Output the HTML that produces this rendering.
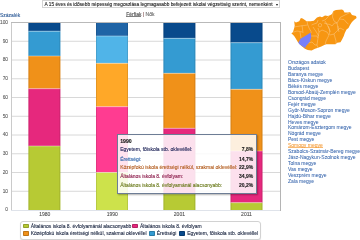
<!DOCTYPE html>
<html><head><meta charset="utf-8"><style>
html,body{margin:0;padding:0;background:#fff;}
body{width:360px;height:240px;overflow:hidden;position:relative;font-family:"Liberation Sans",sans-serif;font-size:5px;line-height:6px;}
div{position:absolute;white-space:nowrap;}
#wrap{left:0;top:0;width:360px;height:240px;will-change:transform;-webkit-text-stroke:0.1px currentColor;}
.yl{right:352px;color:#606060;text-align:right;font-size:4.8px;}
.xl{top:211px;width:30px;text-align:center;color:#505050;}
.ct{left:288px;color:#3a68ae;-webkit-text-stroke:0.05px currentColor;}
.sel{color:#f39a35;}
.ul::after{content:'';position:absolute;left:0;right:0;top:4.95px;height:0.45px;background:currentColor;opacity:0.7;}
.title{left:42px;top:0px;width:236px;height:5.8px;border:1px solid #d4d4d4;background:#fff;}
.title span{position:absolute;left:1.5px;top:0.9px;color:#222;font-size:4.8px;}
.tt{left:116.5px;top:134.3px;width:138px;height:57.5px;border:1px solid #6d7d95;background:rgba(255,255,255,0.86);box-shadow:1px 1px 1.5px rgba(0,0,0,0.3);}
.tr{left:2.7px;}
.tv{right:2.3px;color:#1a1a1a;text-align:right;font-weight:bold;}
.lg{left:20px;top:220.5px;width:239px;height:17px;border:1px solid #d2d2d2;border-radius:3px;background:#fff;box-shadow:0 1px 1px rgba(0,0,0,0.12);}
.sw{width:6px;height:4.5px;border-radius:1px;box-shadow:inset 0 0 0 0.7px rgba(0,0,0,0.28);}
.lt{color:#1a2540;}
</style></head><body><div id="wrap">
<svg width="360" height="240" style="position:absolute;left:0;top:0">
<line x1="11" x2="280" y1="191.25" y2="191.25" stroke="#d8d8d8" stroke-width="1"/>
<line x1="11" x2="280" y1="172.5" y2="172.5" stroke="#d8d8d8" stroke-width="1"/>
<line x1="11" x2="280" y1="153.75" y2="153.75" stroke="#d8d8d8" stroke-width="1"/>
<line x1="11" x2="280" y1="135.0" y2="135.0" stroke="#d8d8d8" stroke-width="1"/>
<line x1="11" x2="280" y1="116.25" y2="116.25" stroke="#d8d8d8" stroke-width="1"/>
<line x1="11" x2="280" y1="97.5" y2="97.5" stroke="#d8d8d8" stroke-width="1"/>
<line x1="11" x2="280" y1="78.75" y2="78.75" stroke="#d8d8d8" stroke-width="1"/>
<line x1="11" x2="280" y1="60.0" y2="60.0" stroke="#d8d8d8" stroke-width="1"/>
<line x1="11" x2="280" y1="41.25" y2="41.25" stroke="#d8d8d8" stroke-width="1"/>
<rect x="28.4" y="22.5" width="32" height="8.7" fill="#084a8c"/>
<rect x="28.4" y="31.2" width="32" height="24.8" fill="#349bd2"/>
<rect x="28.4" y="56" width="32" height="32.7" fill="#f09119"/>
<rect x="28.4" y="88.7" width="32" height="57.3" fill="#e6287d"/>
<rect x="28.4" y="146" width="32" height="64" fill="#b7ca34"/>
<line x1="28.4" x2="60.4" y1="31.2" y2="31.2" stroke="#fff" stroke-opacity="0.55" stroke-width="0.7"/>
<line x1="28.4" x2="60.4" y1="56" y2="56" stroke="#fff" stroke-opacity="0.55" stroke-width="0.7"/>
<line x1="28.4" x2="60.4" y1="88.7" y2="88.7" stroke="#fff" stroke-opacity="0.55" stroke-width="0.7"/>
<line x1="28.4" x2="60.4" y1="146" y2="146" stroke="#fff" stroke-opacity="0.55" stroke-width="0.7"/>
<rect x="28.5" y="22.5" width="0.9" height="187.5" fill="#000" fill-opacity="0.12"/>
<rect x="59.4" y="22.5" width="0.9" height="187.5" fill="#000" fill-opacity="0.12"/>
<rect x="96.0" y="22.5" width="32" height="13.5" fill="#1f64a6"/>
<rect x="96.0" y="36.0" width="32" height="27.299999999999997" fill="#50b4e8"/>
<rect x="96.0" y="63.3" width="32" height="43.400000000000006" fill="#ffa828"/>
<rect x="96.0" y="106.7" width="32" height="65.8" fill="#ff3c91"/>
<rect x="96.0" y="172.5" width="32" height="37.5" fill="#cde24b"/>
<line x1="96.0" x2="128.0" y1="36.0" y2="36.0" stroke="#fff" stroke-opacity="0.55" stroke-width="0.7"/>
<line x1="96.0" x2="128.0" y1="63.3" y2="63.3" stroke="#fff" stroke-opacity="0.55" stroke-width="0.7"/>
<line x1="96.0" x2="128.0" y1="106.7" y2="106.7" stroke="#fff" stroke-opacity="0.55" stroke-width="0.7"/>
<line x1="96.0" x2="128.0" y1="172.5" y2="172.5" stroke="#fff" stroke-opacity="0.55" stroke-width="0.7"/>
<rect x="96.1" y="22.5" width="0.9" height="187.5" fill="#000" fill-opacity="0.12"/>
<rect x="127.0" y="22.5" width="0.9" height="187.5" fill="#000" fill-opacity="0.12"/>
<rect x="163.4" y="22.5" width="32" height="15.799999999999997" fill="#084a8c"/>
<rect x="163.4" y="38.3" width="32" height="35.0" fill="#349bd2"/>
<rect x="163.4" y="73.3" width="32" height="55.000000000000014" fill="#f09119"/>
<rect x="163.4" y="128.3" width="32" height="65.69999999999999" fill="#e6287d"/>
<rect x="163.4" y="194" width="32" height="16" fill="#b7ca34"/>
<line x1="163.4" x2="195.4" y1="38.3" y2="38.3" stroke="#fff" stroke-opacity="0.55" stroke-width="0.7"/>
<line x1="163.4" x2="195.4" y1="73.3" y2="73.3" stroke="#fff" stroke-opacity="0.55" stroke-width="0.7"/>
<line x1="163.4" x2="195.4" y1="128.3" y2="128.3" stroke="#fff" stroke-opacity="0.55" stroke-width="0.7"/>
<line x1="163.4" x2="195.4" y1="194" y2="194" stroke="#fff" stroke-opacity="0.55" stroke-width="0.7"/>
<rect x="163.5" y="22.5" width="0.9" height="187.5" fill="#000" fill-opacity="0.12"/>
<rect x="194.4" y="22.5" width="0.9" height="187.5" fill="#000" fill-opacity="0.12"/>
<rect x="230.5" y="22.5" width="32" height="20.200000000000003" fill="#084a8c"/>
<rect x="230.5" y="42.7" width="32" height="46.599999999999994" fill="#349bd2"/>
<rect x="230.5" y="89.3" width="32" height="61.7" fill="#f09119"/>
<rect x="230.5" y="151" width="32" height="51.69999999999999" fill="#e6287d"/>
<rect x="230.5" y="202.7" width="32" height="7.300000000000011" fill="#b7ca34"/>
<line x1="230.5" x2="262.5" y1="42.7" y2="42.7" stroke="#fff" stroke-opacity="0.55" stroke-width="0.7"/>
<line x1="230.5" x2="262.5" y1="89.3" y2="89.3" stroke="#fff" stroke-opacity="0.55" stroke-width="0.7"/>
<line x1="230.5" x2="262.5" y1="151" y2="151" stroke="#fff" stroke-opacity="0.55" stroke-width="0.7"/>
<line x1="230.5" x2="262.5" y1="202.7" y2="202.7" stroke="#fff" stroke-opacity="0.55" stroke-width="0.7"/>
<rect x="230.6" y="22.5" width="0.9" height="187.5" fill="#000" fill-opacity="0.12"/>
<rect x="261.5" y="22.5" width="0.9" height="187.5" fill="#000" fill-opacity="0.12"/>
<line x1="11.5" x2="11.5" y1="22" y2="210.5" stroke="#cacaca"/>
<line x1="11" x2="280" y1="210.5" y2="210.5" stroke="#dfe3ea"/>
<line x1="11" x2="281" y1="22.5" y2="22.5" stroke="#b9b9b9"/>
<line x1="280.5" x2="280.5" y1="22" y2="211" stroke="#b4b4b4"/>
</svg>
<div class="yl" style="top:207.30px">0</div><div class="yl" style="top:188.55px">10</div><div class="yl" style="top:169.80px">20</div><div class="yl" style="top:151.05px">30</div><div class="yl" style="top:132.30px">40</div><div class="yl" style="top:113.55px">50</div><div class="yl" style="top:94.80px">60</div><div class="yl" style="top:76.05px">70</div><div class="yl" style="top:57.30px">80</div><div class="yl" style="top:38.55px">90</div><div class="yl" style="top:19.80px">100</div>
<div class="xl" style="left:29.700000000000003px">1980</div><div class="xl" style="left:97.2px">1990</div><div class="xl" style="left:164.4px">2001</div><div class="xl" style="left:231.5px">2011</div>
<div style="left:0px;top:11.5px;color:#2f5c98;">Százalék</div>
<div class="title"><span>A 15 éves és idősebb népesség megoszlása legmagasabb befejezett iskolai végzettség szerint, nemenként</span><span style="left:232.7px;top:2.5px;width:0;height:0;border-left:1.4px solid transparent;border-right:1.4px solid transparent;border-top:2.2px solid #111;"></span></div>
<div style="left:126.2px;top:10.8px;color:#555;"><span class="ul" style="position:relative;display:inline-block;color:#4a4a4a">Férfiak</span> <span style="color:#7a4a4a">|</span> <span style="color:#666">Nők</span></div>
<div class="tt">
<div class="tr" style="top:2.3px;color:#111;font-weight:bold;font-size:5.2px;">1990</div><div class="tr" style="top:11.1px;color:#161c52;">Egyetem, főiskola stb. oklevéllel:</div><div class="tv" style="top:11.1px">7,8%</div><div class="tr" style="top:20.5px;color:#2a62a8;">Érettségi:</div><div class="tv" style="top:20.5px">14,7%</div><div class="tr" style="top:28.7px;color:#b05818;">Középfokú iskola érettségi nélkül, szakmai oklevéllel:</div><div class="tv" style="top:28.7px">22,9%</div><div class="tr" style="top:38.1px;color:#8a1848;">Általános iskola 8. évfolyam:</div><div class="tv" style="top:38.1px">34,9%</div><div class="tr" style="top:46.3px;color:#687818;">Általános iskola 8. évfolyamánál alacsonyabb:</div><div class="tv" style="top:46.3px">20,2%</div>
</div>
<div class="lg">
 <div class="sw" style="left:1.8px;top:2px;background:#b7ca34"></div>
 <div class="lt" style="left:9.7px;top:1.3px">Általános iskola 8. évfolyamánál alacsonyabb</div>
 <div class="sw" style="left:111px;top:2px;background:#e6287d"></div>
 <div class="lt" style="left:119px;top:1.3px">Általános iskola 8. évfolyam</div>
 <div class="sw" style="left:1.8px;top:9.8px;background:#f09119"></div>
 <div class="lt" style="left:9.7px;top:8.6px">Középfokú iskola érettségi nélkül, szakmai oklevéllel</div>
 <div class="sw" style="left:128.4px;top:9.8px;background:#349bd2"></div>
 <div class="lt" style="left:135.7px;top:8.6px">Érettségi</div>
 <div class="sw" style="left:158.4px;top:9.8px;background:#084a8c"></div>
 <div class="lt" style="left:166.2px;top:8.6px">Egyetem, főiskola stb. oklevéllel</div>
</div>
<svg width="75" height="50" style="position:absolute;left:285px;top:5px" viewBox="285 5 75 50">
<path d="M291.4,33.6 L293,31.9 L294.2,28 L294.7,25.7 L294.2,21.2 L295.9,22.4 L299.2,21.2 L300.9,17.9 L302.6,18.4 L304.9,20.1 L306.5,21.2 L310.5,21.2 L313.8,20.7 L317,17.5 L320,16.5 L322,17.2 L325,15.5 L328,16 L330.5,15 L332,14 L333.5,11 L336,10 L339,9.8 L342,9.4 L343.5,10.5 L344.5,12.5 L348,12.5 L350,12 L352,15 L356,16 L356.6,18 L354,20 L352,22 L350,25 L348.5,28 L346.5,29.5 L344.8,32.9 L343.8,36 L342.2,39.3 L340.5,42.25 L337.2,42.7 L335.5,44.3 L330.5,44.3 L326.3,44.3 L323.8,45.2 L321.3,46.4 L318,47.7 L315,48.8 L311.6,50.5 L307.7,49.9 L304.9,48.8 L301.5,46 L298,42.3 L294.5,36.6 L293,34.7 Z" fill="#f79612"/>
<clipPath id="hu"><path d="M291.4,33.6 L293,31.9 L294.2,28 L294.7,25.7 L294.2,21.2 L295.9,22.4 L299.2,21.2 L300.9,17.9 L302.6,18.4 L304.9,20.1 L306.5,21.2 L310.5,21.2 L313.8,20.7 L317,17.5 L320,16.5 L322,17.2 L325,15.5 L328,16 L330.5,15 L332,14 L333.5,11 L336,10 L339,9.8 L342,9.4 L343.5,10.5 L344.5,12.5 L348,12.5 L350,12 L352,15 L356,16 L356.6,18 L354,20 L352,22 L350,25 L348.5,28 L346.5,29.5 L344.8,32.9 L343.8,36 L342.2,39.3 L340.5,42.25 L337.2,42.7 L335.5,44.3 L330.5,44.3 L326.3,44.3 L323.8,45.2 L321.3,46.4 L318,47.7 L315,48.8 L311.6,50.5 L307.7,49.9 L304.9,48.8 L301.5,46 L298,42.3 L294.5,36.6 L293,34.7 Z"/></clipPath><g clip-path="url(#hu)"><path d="M294.00,27.00 L297.00,26.50 L300.00,26.00 L304.00,25.50 L307.50,25.00" fill="none" stroke="#fcd29a" stroke-width="0.45"/><path d="M302.00,25.50 L302.50,29.00 L303.00,33.00" fill="none" stroke="#fcd29a" stroke-width="0.45"/><path d="M307.50,24.00 L309.00,28.00 L311.00,31.50 L311.00,33.00" fill="none" stroke="#fcd29a" stroke-width="0.45"/><path d="M292.00,32.50 L297.00,31.00 L300.00,31.50 L302.50,32.00" fill="none" stroke="#fcd29a" stroke-width="0.45"/><path d="M300.00,32.00 L301.00,38.00" fill="none" stroke="#fcd29a" stroke-width="0.45"/><path d="M311.50,25.00 L314.00,24.00 L317.00,23.00 L318.00,20.00" fill="none" stroke="#fcd29a" stroke-width="0.45"/><path d="M313.00,27.00 L317.00,33.00 L318.50,36.00" fill="none" stroke="#fcd29a" stroke-width="0.45"/><path d="M318.00,28.00 L319.00,32.00 L318.00,38.00 L317.00,45.00 L318.00,48.00" fill="none" stroke="#fcd29a" stroke-width="0.45"/><path d="M311.00,36.00 L317.00,36.00 L318.00,38.00" fill="none" stroke="#fcd29a" stroke-width="0.45"/><path d="M308.00,43.00 L312.00,42.00 L315.00,45.00 L317.00,45.00" fill="none" stroke="#fcd29a" stroke-width="0.45"/><path d="M319.00,32.00 L322.00,30.00 L327.00,32.00 L329.00,35.00" fill="none" stroke="#fcd29a" stroke-width="0.45"/><path d="M328.00,26.00 L330.00,31.00 L329.00,35.00 L326.00,41.00 L325.00,45.00" fill="none" stroke="#fcd29a" stroke-width="0.45"/><path d="M330.00,35.00 L334.00,34.00 L338.00,30.00 L340.00,28.00 L344.00,30.00" fill="none" stroke="#fcd29a" stroke-width="0.45"/><path d="M334.00,34.00 L336.00,41.00 L336.00,44.00" fill="none" stroke="#fcd29a" stroke-width="0.45"/><path d="M338.00,30.00 L338.00,26.00" fill="none" stroke="#fcd29a" stroke-width="0.45"/><path d="M324.00,23.00 L327.00,24.00 L330.00,24.50 L332.00,26.00 L334.50,23.00 L337.00,23.00" fill="none" stroke="#fcd29a" stroke-width="0.45"/><path d="M322.00,21.00 L325.00,20.00 L328.00,17.00 L329.00,15.50" fill="none" stroke="#fcd29a" stroke-width="0.45"/><path d="M333.00,12.00 L332.50,17.00 L334.00,21.00 L337.00,23.00 L339.50,19.00 L340.00,17.50 L343.00,16.00 L347.00,14.00 L350.00,12.50" fill="none" stroke="#fcd29a" stroke-width="0.45"/><path d="M339.50,19.00 L344.00,19.50 L347.00,23.00 L348.50,24.00" fill="none" stroke="#fcd29a" stroke-width="0.45"/><path d="M325.00,21.00 L329.00,28.00 L330.00,32.00" fill="none" stroke="#fcd29a" stroke-width="0.45"/><path d="M337.00,23.00 L338.50,30.00 L339.00,32.00" fill="none" stroke="#fcd29a" stroke-width="0.45"/><path d="M307.50,24.00 L307.00,20.50" fill="none" stroke="#fcd29a" stroke-width="0.45"/><circle cx="320" cy="25.2" r="1.7" fill="none" stroke="#fcd29a" stroke-width="0.45"/></g>
<path d="M298.3,42.8 L300.5,38.7 L304.7,36.2 L308,34.3 L310.6,32.6 L311.3,37 L310,41.5 L307.5,44.5 L306,46 L305.3,48 L302.2,46.2 L299.7,44.5 Z" fill="#7880fa"/>
</svg>
<div class="ct" style="top:58.75px">Országos adatok</div><div class="ct" style="top:64.72px">Budapest</div><div class="ct" style="top:70.70px">Baranya megye</div><div class="ct" style="top:76.67px">Bács-Kiskun megye</div><div class="ct" style="top:82.65px">Békés megye</div><div class="ct" style="top:88.62px">Borsod-Abaúj-Zemplén megye</div><div class="ct" style="top:94.60px">Csongrád megye</div><div class="ct" style="top:100.57px">Fejér megye</div><div class="ct" style="top:106.55px">Győr-Moson-Sopron megye</div><div class="ct" style="top:112.53px">Hajdú-Bihar megye</div><div class="ct" style="top:118.50px">Heves megye</div><div class="ct" style="top:124.47px">Komárom-Esztergom megye</div><div class="ct" style="top:130.45px">Nógrád megye</div><div class="ct" style="top:136.43px">Pest megye</div><div class="ct sel ul" style="top:142.40px">Somogy megye</div><div class="ct" style="top:148.38px">Szabolcs-Szatmár-Bereg megye</div><div class="ct" style="top:154.35px">Jász-Nagykun-Szolnok megye</div><div class="ct" style="top:160.32px">Tolna megye</div><div class="ct" style="top:166.30px">Vas megye</div><div class="ct" style="top:172.27px">Veszprém megye</div><div class="ct" style="top:178.25px">Zala megye</div>
</div></body></html>
